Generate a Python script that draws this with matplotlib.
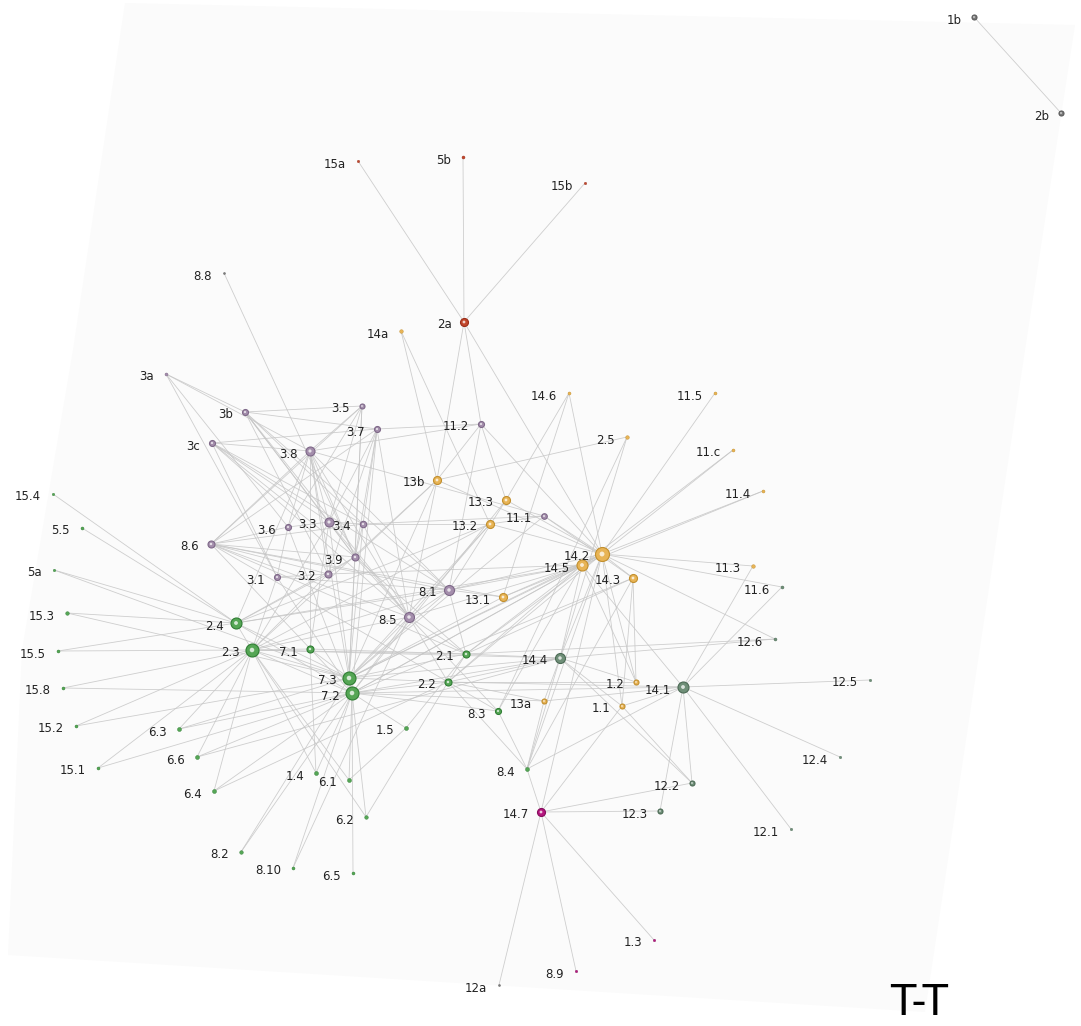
import matplotlib
matplotlib.use('Agg')
import matplotlib.pyplot as plt
from matplotlib.patches import Polygon

# node data: name, layout x, layout y (pixel layout), group, weight
names = ['1b', '2b', '15a', '5b', '15b', '2a', '8.8', '14a',
         '3a', '3b', '3.5', '3.7', '3c', '3.8', '3.6', '3.3', '3.4', '8.6', '3.9', '3.1', '3.2',
         '8.1', '8.5', '11.2', '11.1',
         '14.6', '11.5', '2.5', '11.c', '13b', '11.4', '13.3', '13.2', '14.2', '14.5', '11.3',
         '14.3', '13.1', '1.2', '1.1', '13a',
         '11.6', '12.6', '14.4', '14.1', '12.5', '12.4', '12.2', '12.3', '12.1',
         '15.4', '5.5', '5a', '15.3', '15.5', '15.8', '15.2', '15.1',
         '2.4', '2.3', '7.1', '7.3', '7.2', '2.1', '2.2', '8.3', '1.5',
         '6.3', '6.6', '6.4', '1.4', '6.1', '6.2', '8.2', '8.10', '6.5', '8.4',
         '14.7', '1.3', '8.9', '12a']
xs = [974, 1061, 358, 463, 585, 464, 224, 401,
      166, 245, 362, 377, 212, 310, 288, 329, 363, 211, 355, 277, 328,
      449, 409, 481, 544,
      569, 715, 627, 733, 437, 763, 506, 490, 602, 582, 753,
      633, 503, 636, 622, 544,
      782, 775, 560, 683, 870, 840, 692, 660, 791,
      53, 82, 54, 67, 58, 63, 76, 98,
      236, 252, 310, 349, 352, 466, 448, 498, 406,
      179, 197, 214, 316, 349, 366, 241, 293, 353, 527,
      541, 654, 576, 499]
ys = [17, 113, 161, 157, 183, 322, 273, 331,
      374, 412, 406, 429, 443, 451, 527, 522, 524, 544, 557, 577, 574,
      590, 617, 424, 516,
      393, 393, 437, 450, 480, 491, 500, 524, 554, 565, 566,
      578, 597, 682, 706, 701,
      587, 639, 658, 687, 680, 757, 783, 811, 829,
      494, 528, 570, 613, 651, 688, 726, 768,
      623, 650, 649, 678, 693, 654, 682, 711, 728,
      729, 757, 791, 773, 780, 817, 852, 868, 873, 769,
      812, 940, 971, 985]
groups = ['grey', 'grey', 'red', 'red', 'red', 'red', 'grey', 'orange',
          'purple', 'purple', 'purple', 'purple', 'purple', 'purple', 'purple', 'purple', 'purple', 'purple', 'purple', 'purple', 'purple',
          'purple', 'purple', 'purple', 'purple',
          'orange', 'orange', 'orange', 'orange', 'orange', 'orange', 'orange', 'orange', 'orange', 'orange', 'orange',
          'orange', 'orange', 'orange', 'orange', 'orange',
          'slate', 'slate', 'slate', 'slate', 'slate', 'slate', 'slate', 'slate', 'slate',
          'green', 'green', 'green', 'green', 'green', 'green', 'green', 'green',
          'green', 'green', 'green', 'green', 'green', 'green', 'green', 'green', 'green',
          'green', 'green', 'green', 'green', 'green', 'green', 'green', 'green', 'green', 'green',
          'magenta', 'magenta', 'magenta', 'grey']
weight = [2.5, 2.5, 1.2, 1.5, 1.2, 4, 1, 1.8,
          1.5, 3, 2.5, 3, 3, 4.5, 3, 4.5, 3.2, 3.5, 3.5, 3, 3.5,
          5, 5, 3, 2.8,
          1.5, 1.5, 1.8, 1.5, 4, 1.5, 4, 4, 7, 5.5, 1.8,
          4, 4, 2.5, 2.5, 2.5,
          1.5, 1.5, 5, 5.5, 1.2, 1.2, 2.5, 2.5, 1.2,
          1.2, 1.5, 1.2, 1.8, 1.5, 1.5, 1.5, 1.5,
          5.5, 6.5, 3.5, 6.5, 6.5, 3.5, 3.5, 3, 2,
          2, 2, 2, 2, 2, 1.8, 1.8, 1.5, 1.5, 2,
          4, 1.2, 1.2, 1]

edges = [("1b", "2b"),
         ("15a", "2a"), ("5b", "2a"), ("15b", "2a"),
         ("2a", "11.2"), ("2a", "13b"), ("2a", "14.2"),
         ("8.8", "3.9"), ("14a", "13b"), ("14a", "13.2"),
         ("3a", "3b"), ("3a", "3.8"), ("3a", "3.6"), ("3a", "3.1"),
         ("3b", "3.5"), ("3b", "3.7"), ("3b", "3.3"), ("3b", "3.4"), ("3b", "3.9"), ("3b", "8.5"), ("3b", "3.2"),
         ("3b", "8.1"),
         ("3c", "3.7"), ("3c", "3.8"), ("3c", "3.3"), ("3c", "3.9"), ("3c", "8.1"), ("3c", "3.1"), ("3c", "3.4"),
         ("3c", "8.5"),
         ("3.5", "3.8"), ("3.5", "3.3"), ("3.5", "3.9"), ("3.5", "8.6"), ("3.5", "3.6"), ("3.5", "7.3"),
         ("3.7", "3.3"), ("3.7", "3.9"), ("3.7", "3.2"), ("3.7", "8.5"), ("3.7", "11.2"), ("3.7", "7.2"),
         ("3.7", "8.6"), ("3.7", "3.4"),
         ("3.8", "3.6"), ("3.8", "3.3"), ("3.8", "3.2"), ("3.8", "3.9"), ("3.8", "8.5"), ("3.8", "8.1"),
         ("3.8", "7.1"), ("3.8", "2.4"), ("3.8", "11.2"), ("3.8", "8.6"), ("3.8", "7.3"),
         ("3.6", "8.6"), ("3.6", "3.3"), ("3.6", "3.1"), ("3.6", "7.2"),
         ("3.3", "3.4"), ("3.3", "3.9"), ("3.3", "7.1"), ("3.3", "7.2"), ("3.3", "8.5"), ("3.3", "2.3"),
         ("3.4", "3.9"), ("3.4", "8.6"), ("3.4", "13.2"), ("3.4", "8.5"), ("3.4", "11.1"), ("3.4", "7.3"),
         ("3.9", "3.2"), ("3.9", "8.6"), ("3.9", "8.5"), ("3.9", "7.3"), ("3.9", "2.4"), ("3.9", "13b"),
         ("3.9", "2.1"),
         ("3.1", "3.2"), ("3.1", "2.3"), ("3.1", "8.1"), ("3.1", "7.2"),
         ("3.2", "2.4"), ("3.2", "2.3"), ("3.2", "8.6"), ("3.2", "14.5"),
         ("8.6", "8.5"), ("8.6", "8.1"), ("8.6", "2.1"), ("8.6", "13.1"), ("8.6", "7.2"), ("8.6", "2.2"),
         ("8.1", "8.5"), ("8.1", "13.1"), ("8.1", "2.3"), ("8.1", "7.3"), ("8.1", "14.2"), ("8.1", "14.5"),
         ("8.1", "2.1"),
         ("8.5", "7.3"), ("8.5", "7.2"), ("8.5", "2.3"), ("8.5", "2.1"), ("8.5", "8.3"), ("8.5", "8.10"),
         ("8.5", "14.5"), ("8.5", "2.2"),
         ("11.2", "13b"), ("11.2", "14.2"), ("11.2", "13.3"), ("11.2", "8.1"),
         ("14.6", "13.3"), ("14.6", "13.1"), ("14.6", "14.2"),
         ("2.5", "13b"), ("2.5", "14.4"), ("2.5", "8.3"),
         ("11.5", "14.2"), ("11.c", "14.2"), ("11.c", "14.5"), ("11.4", "14.2"), ("11.4", "14.5"),
         ("11.3", "14.2"), ("11.3", "14.1"), ("11.6", "14.2"), ("11.6", "14.1"),
         ("13b", "7.3"), ("13b", "2.3"), ("13b", "14.2"), ("13b", "8.5"),
         ("13.2", "7.3"), ("13.2", "14.2"), ("13.2", "8.5"), ("13.2", "11.1"), ("13.2", "2.4"), ("13.2", "2.3"),
         ("13.3", "14.2"), ("13.3", "7.2"), ("13.3", "8.1"),
         ("11.1", "14.2"), ("11.1", "14.3"), ("11.1", "3.8"), ("11.1", "7.3"),
         ("13.1", "14.2"), ("13.1", "14.5"), ("13.1", "7.3"),
         ("14.2", "7.3"), ("14.2", "7.2"), ("14.2", "2.2"), ("14.2", "1.2"), ("14.2", "1.1"), ("14.2", "14.3"),
         ("14.2", "14.5"), ("14.2", "14.4"), ("14.2", "8.4"), ("14.2", "14.7"), ("14.2", "12.6"), ("14.2", "2.1"),
         ("14.5", "7.3"), ("14.5", "2.1"), ("14.5", "8.3"), ("14.5", "1.2"), ("14.5", "14.1"), ("14.5", "7.2"),
         ("14.5", "14.4"), ("14.5", "2.2"), ("14.5", "2.4"),
         ("14.3", "1.2"), ("14.3", "1.1"), ("14.3", "8.4"), ("14.3", "2.1"), ("14.3", "7.2"),
         ("15.4", "2.4"), ("5.5", "2.4"), ("5a", "2.4"), ("5a", "7.3"),
         ("15.3", "2.4"), ("15.3", "7.3"), ("15.5", "2.3"), ("15.5", "2.4"), ("15.8", "2.3"), ("15.8", "7.2"),
         ("15.2", "2.3"), ("15.2", "7.3"), ("15.1", "2.3"), ("15.1", "7.2"),
         ("6.3", "2.3"), ("6.3", "7.2"), ("6.3", "7.3"), ("6.6", "2.3"), ("6.6", "7.2"), ("6.6", "14.4"),
         ("6.4", "2.3"), ("6.4", "7.2"), ("6.4", "2.2"),
         ("8.2", "7.2"), ("8.2", "7.3"), ("8.10", "7.2"), ("6.5", "7.2"), ("6.1", "7.2"), ("6.1", "2.3"), ("6.1", "1.5"),
         ("1.4", "7.1"), ("1.4", "7.2"), ("1.4", "2.3"), ("6.2", "7.2"), ("6.2", "2.3"), ("6.2", "2.2"),
         ("1.5", "7.2"), ("1.5", "2.1"),
         ("2.4", "2.3"), ("2.4", "7.3"), ("2.4", "7.2"), ("2.4", "8.1"),
         ("2.3", "7.1"), ("2.3", "7.3"), ("2.3", "7.2"), ("2.3", "2.1"), ("2.3", "14.4"),
         ("7.1", "7.3"), ("7.1", "2.1"),
         ("7.3", "7.2"), ("7.3", "2.1"), ("7.3", "2.2"), ("7.3", "14.4"),
         ("7.2", "2.2"), ("7.2", "13a"), ("7.2", "14.1"), ("7.2", "8.3"), ("7.2", "14.4"),
         ("2.1", "2.2"), ("2.1", "14.4"), ("2.1", "12.6"),
         ("2.2", "14.4"), ("2.2", "13a"), ("2.2", "1.2"), ("2.2", "8.3"), ("2.2", "14.1"),
         ("14.4", "1.2"), ("14.4", "1.1"), ("14.4", "13a"), ("14.4", "12.2"), ("14.4", "8.4"),
         ("1.1", "14.1"), ("1.1", "14.7"), ("1.1", "12.2"),
         ("8.4", "8.3"), ("8.4", "2.2"), ("8.4", "14.1"), ("8.4", "13a"), ("8.4", "14.7"),
         ("14.7", "12a"), ("14.7", "8.9"), ("14.7", "1.3"), ("14.7", "12.3"), ("14.7", "12.2"),
         ("14.1", "12.1"), ("14.1", "12.4"), ("14.1", "12.5"), ("14.1", "12.2"), ("14.1", "12.3"), ("14.1", "13a"),
         ("12.6", "14.4")]

title = 'T-T'

face = {'grey': '#7a7a7a', 'red': '#c2472c', 'orange': '#e8b455', 'purple': '#a48eac',
        'slate': '#6f8f78', 'green': '#55a655', 'magenta': '#b5167f'}
rim = {'grey': '#5a5a5a', 'red': '#9a2e1a', 'orange': '#c28f2e', 'purple': '#7e6888',
       'slate': '#4c6a55', 'green': '#2f7d33', 'magenta': '#850d5c'}

W, H = 1081, 1026
fig = plt.figure(figsize=(W / 100, H / 100), dpi=100)
ax = fig.add_axes([0, 0, 1, 1])
ax.set_xlim(0, W)
ax.set_ylim(H, 0)
ax.axis('off')

# faint tilted backdrop
ax.add_patch(Polygon([(125, 3), (1075, 25), (1025, 350), (972, 700), (925, 1012),
                      (8, 955), (22, 650), (73, 350)], closed=True,
                     facecolor='#fbfbfb', edgecolor='none', zorder=0))

pos = {n: (x, y) for n, x, y in zip(names, xs, ys)}
for a, b in edges:
    ax.plot([pos[a][0], pos[b][0]], [pos[a][1], pos[b][1]], color='#c6c6c6',
            lw=0.6, alpha=0.85, zorder=1, solid_capstyle='round')

for n, x, y, g, w in zip(names, xs, ys, groups, weight):
    d = 2 * w * 0.72
    ax.scatter([x], [y], s=d ** 2, c=face[g], edgecolors=rim[g], linewidths=0.8 if w > 2 else 0.3, zorder=3)
    if w >= 2.5:
        ax.scatter([x], [y], s=(d * 0.35) ** 2, c='white', alpha=0.75, edgecolors='none', zorder=4)
    ax.text(x - 12, y + 3, n, ha='right', va='center',
            fontsize=8.5, color='#222222', family='DejaVu Sans', zorder=5)

ax.text(919, 1024, title, ha='center', va='bottom', fontsize=30, color='black', family='DejaVu Sans')

fig.savefig('out.png', dpi=100)
